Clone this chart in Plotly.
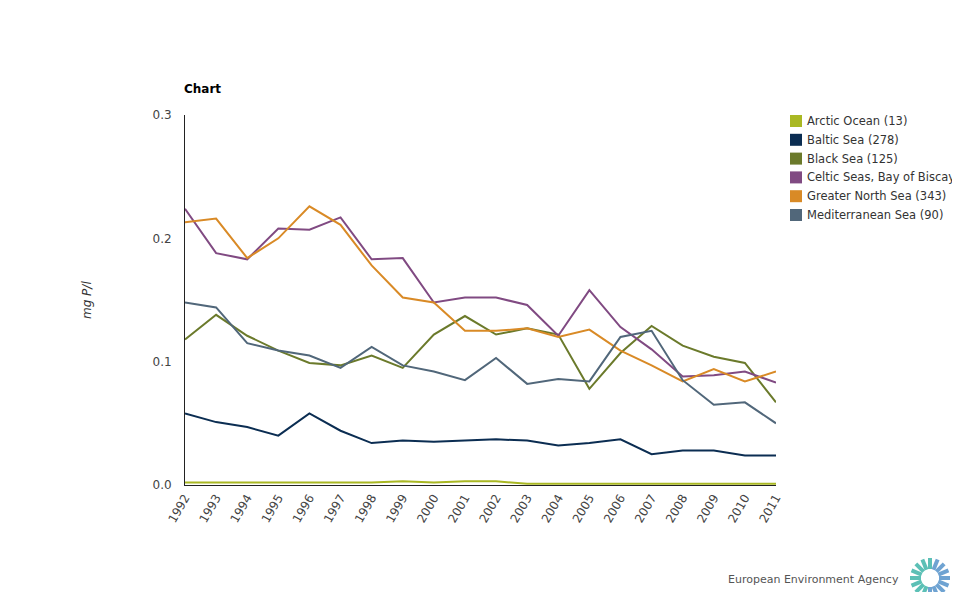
import math
import plotly.graph_objects as go

years = list(range(1992, 2012))

arctic_ocean = [0.002, 0.002, 0.002, 0.002, 0.002, 0.002, 0.002, 0.003, 0.002, 0.003,
                0.003, 0.001, 0.001, 0.001, 0.001, 0.001, 0.001, 0.001, 0.001, 0.001]
baltic_sea = [0.058, 0.051, 0.047, 0.040, 0.058, 0.044, 0.034, 0.036, 0.035, 0.036,
              0.037, 0.036, 0.032, 0.034, 0.037, 0.025, 0.028, 0.028, 0.024, 0.024]
black_sea = [0.118, 0.138, 0.121, 0.109, 0.099, 0.097, 0.105, 0.095, 0.122, 0.137,
             0.122, 0.127, 0.122, 0.078, 0.107, 0.129, 0.113, 0.104, 0.099, 0.067]
celtic_seas = [0.224, 0.188, 0.183, 0.208, 0.207, 0.217, 0.183, 0.184, 0.148, 0.152,
               0.152, 0.146, 0.121, 0.158, 0.128, 0.110, 0.088, 0.089, 0.092, 0.083]
greater_north_sea = [0.213, 0.216, 0.184, 0.200, 0.226, 0.211, 0.178, 0.152, 0.148, 0.125,
                     0.125, 0.127, 0.120, 0.126, 0.109, 0.097, 0.084, 0.094, 0.084, 0.092]
mediterranean_sea = [0.148, 0.144, 0.115, 0.109, 0.105, 0.095, 0.112, 0.097, 0.092, 0.085,
                     0.103, 0.082, 0.086, 0.084, 0.120, 0.125, 0.085, 0.065, 0.067, 0.050]

series_names = ["Arctic Ocean (13)", "Baltic Sea (278)", "Black Sea (125)",
                "Celtic Seas, Bay of Biscay", "Greater North Sea (343)", "Mediterranean Sea (90)"]
series_values = [arctic_ocean, baltic_sea, black_sea, celtic_seas, greater_north_sea, mediterranean_sea]
colors = ["#a9b823", "#0b2d52", "#6b7a2b", "#804a82", "#d98a26", "#51677a"]

y_ticks = [0.0, 0.1, 0.2, 0.3]

# page offset (body margin) and figure geometry
OFF = 8
W, H = 952, 584
L, T, PW, PH = 177, 107, 591, 370


def px(X):
    return (X - OFF - L) / PW


def py(Y):
    return (T + PH - (Y - OFF)) / PH


fig = go.Figure()
for name, vals, col in zip(series_names, series_values, colors):
    fig.add_trace(go.Scatter(x=years, y=vals, mode="lines", name=name,
                             line=dict(color=col, width=2), showlegend=False,
                             hovertemplate="%{x}: %{y}<extra>" + name + "</extra>"))

fig.update_layout(
    width=W, height=H,
    margin=dict(l=L, r=W - L - PW, t=T, b=H - T - PH, autoexpand=False),
    paper_bgcolor="white", plot_bgcolor="white",
    font=dict(family="DejaVu Sans, Verdana, sans-serif", size=12, color="#444"),
    title=dict(text="<b>Chart</b>", x=(184 - OFF) / W, xanchor="left", xref="container",
               y=1 - (89 - OFF) / H, yanchor="middle", yref="container",
               font=dict(size=12, color="#000")),
    showlegend=False,
)
fig.update_xaxes(range=[1992, 2011], tickmode="array", tickvals=years,
                 ticktext=[str(y) for y in years], tickangle=-60,
                 showline=True, linecolor="#222", linewidth=1, showgrid=False,
                 zeroline=False, ticks="", tickfont=dict(size=12, color="#444"))
fig.update_yaxes(range=[0, 0.3], tickmode="array", tickvals=y_ticks,
                 ticktext=[f"{v:.1f}" for v in y_ticks], ticklabelstandoff=10,
                 showline=True, linecolor="#222", linewidth=1, showgrid=False,
                 zeroline=False, ticks="", tickfont=dict(size=12, color="#444"))

fig.add_annotation(text="<i>mg P/l</i>", textangle=-90, x=px(87), y=py(300),
                   xref="paper", yref="paper", xanchor="center", yanchor="middle",
                   showarrow=False, font=dict(size=12, color="#333"))
fig.add_annotation(text="European Environment Agency", x=px(901), y=py(579),
                   xref="paper", yref="paper", xanchor="right", yanchor="middle",
                   showarrow=False, font=dict(size=11, color="#555"))

shapes = []
# legend (squares + labels)
for i, (name, col) in enumerate(zip(series_names, colors)):
    yc = 121 + i * 18.8
    shapes.append(dict(type="rect", xref="paper", yref="paper",
                       x0=px(790), x1=px(802), y0=py(yc - 6), y1=py(yc + 6),
                       fillcolor=col, line=dict(width=0)))
    fig.add_annotation(text=name, x=px(805), y=py(yc), xref="paper", yref="paper",
                       xanchor="left", yanchor="middle", showarrow=False,
                       font=dict(size=11.5, color="#333"))

# EEA logo approximation (decorative)
cx, cy = 930, 578
n = 16
for i in range(n):
    a = 2 * math.pi * i / n
    dx, dy = math.cos(a), math.sin(a)
    col = "#5cc0b6" if (dx < 0.3 and not (dy > 0.5 and dx > -0.3)) else "#6fa3d2"
    shapes.append(dict(type="line", xref="paper", yref="paper",
                       x0=px(cx + 9 * dx), y0=py(cy + 9 * dy),
                       x1=px(cx + 20 * dx), y1=py(cy + 20 * dy),
                       line=dict(color=col, width=4)))
fig.update_layout(shapes=shapes)

fig.write_html("out.html")
